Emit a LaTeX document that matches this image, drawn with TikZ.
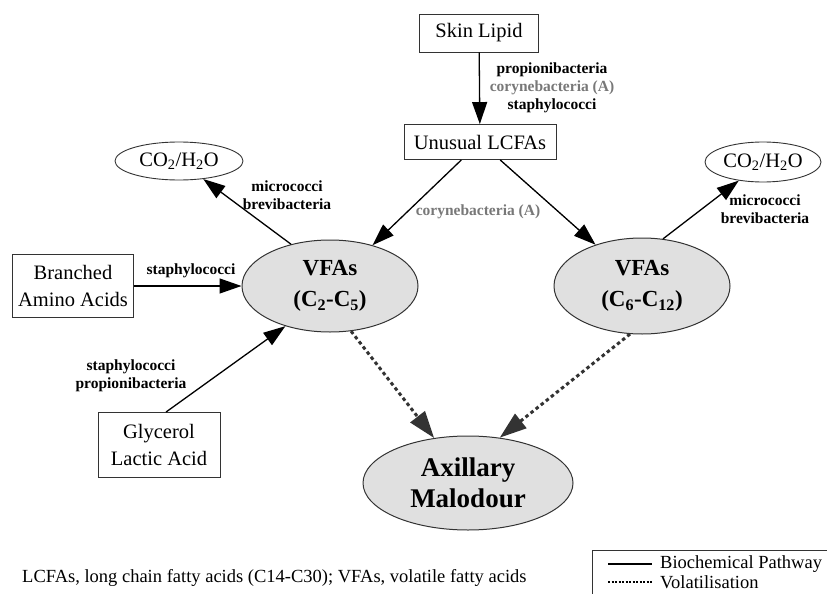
\documentclass[tikz,border=0pt]{standalone}
\usepackage{fontspec}
\setmainfont{Liberation Serif}
\usetikzlibrary{arrows.meta,shapes.geometric}
\definecolor{ovalgrey}{RGB}{224,224,224}
\definecolor{linegrey}{RGB}{51,51,51}
\definecolor{corygrey}{RGB}{120,120,120}
\newcommand{\boxfont}{\fontsize{20.5}{27}\selectfont}
\newcommand{\labfont}{\fontsize{15.5}{18}\selectfont\bfseries}
\newcommand{\vfafont}{\fontsize{23}{31}\selectfont\bfseries}
\newcommand{\malfont}{\fontsize{27}{31}\selectfont\bfseries}
\newcommand{\notefont}{\fontsize{18.5}{20}\selectfont}
\tikzset{
  src/.style={draw=linegrey, line width=0.9pt, inner sep=0pt, align=center, font=\boxfont},
  co2/.style={ellipse, draw=linegrey, line width=0.9pt, inner sep=0pt, font=\boxfont},
  vfa/.style={ellipse, draw=linegrey, fill=ovalgrey, line width=1pt, inner sep=0pt, align=center},
  bio/.style={-{Triangle[length=22pt,width=15pt]}, line width=1.3pt, black},
  vol/.style={-{Triangle[length=27pt,width=18pt]}, line width=3pt, linegrey, dash pattern=on 3.5pt off 3pt},
  lab/.style={align=center, font=\labfont, inner sep=0pt}
}

\begin{document}
\begin{tikzpicture}[x=1pt, y=-1pt]
	\useasboundingbox (0,0) rectangle (827,594);
	% sources and intermediates
	\node[src, minimum width=119pt, minimum height=38pt] (skin) at (479,33) {Skin Lipid};
	\node[src, minimum width=152pt, minimum height=35pt] (lcfa) at (480,142) {Unusual LCFAs};
	\node[src, minimum width=121pt, minimum height=63pt] (amino) at (73,286) {Branched\\Amino Acids};
	\node[src, minimum width=122pt, minimum height=65pt] (glyc) at (159,445) {Glycerol\\Lactic Acid};
	\node[co2, minimum width=128pt, minimum height=38pt] (co2L) at (179,161) {CO\textsubscript{2}/H\textsubscript{2}O};
	\node[co2, minimum width=116pt, minimum height=40pt] (co2R) at (763,162) {CO\textsubscript{2}/H\textsubscript{2}O};
	\node[vfa, font=\vfafont, minimum width=176pt, minimum height=92pt] (vfaL) at (330,286) {VFAs\\(C\textsubscript{2}-C\textsubscript{5})};
	\node[vfa, font=\vfafont, minimum width=176pt, minimum height=96pt] (vfaR) at (642,286) {VFAs\\(C\textsubscript{6}-C\textsubscript{12})};
	\node[vfa, font=\malfont, minimum width=210pt, minimum height=94pt] (ax) at (468,483) {Axillary\\Malodour};

	% pathways
	\draw[bio] (skin) -- (lcfa);
	\draw[bio] (lcfa) -- (vfaL);
	\draw[bio] (lcfa) -- (vfaR);
	\draw[bio] (vfaL.133) -- (co2L);
	\draw[bio] (vfaR.66) -- (co2R);
	\draw[bio] (amino) -- (vfaL);
	\draw[bio] (glyc.78) -- (vfaL.222);
	\draw[vol] (vfaL.295) -- (ax.127);
	\draw[vol] (vfaR.256) -- (ax.55);

	% bacteria
	\node[lab] (skinlab) at (552,88) {propionibacteria\\\textcolor{corygrey}{corynebacteria (A)}\\staphylococci};
	\node[lab, text=corygrey] (corylab) at (478,212) {corynebacteria (A)};
	\node[lab] (microL) at (287,195) {micrococci\\brevibacteria};
	\node[lab] (microR) at (765,209) {micrococci\\brevibacteria};
	\node[lab] (staphA) at (191,271) {staphylococci};
	\node[lab] (staphG) at (131,376) {staphylococci\\propionibacteria};

	% footnote and legend
	\node[anchor=west, font=\notefont, inner sep=0pt] (note) at (22,578) {LCFAs, long chain fatty acids (C14-C30); VFAs, volatile fatty acids};
	\draw[line width=1pt, linegrey] (827,550) -| (592,594);
	\coordinate (solA) at (608,564);
	\coordinate (solB) at (652,564);
	\coordinate (dotA) at (608,582);
	\coordinate (dotB) at (652,582);
	\draw[line width=2.8pt] (solA) -- (solB);
	\draw[line width=2.8pt, dash pattern=on 2pt off 1.5pt] (dotA) -- (dotB);
	\node[anchor=west, font=\notefont, inner sep=0pt] (biolab) at (660,564) {Biochemical Pathway};
	\node[anchor=west, font=\notefont, inner sep=0pt] (vollab) at (660,582) {Volatilisation};
\end{tikzpicture}
\end{document}
